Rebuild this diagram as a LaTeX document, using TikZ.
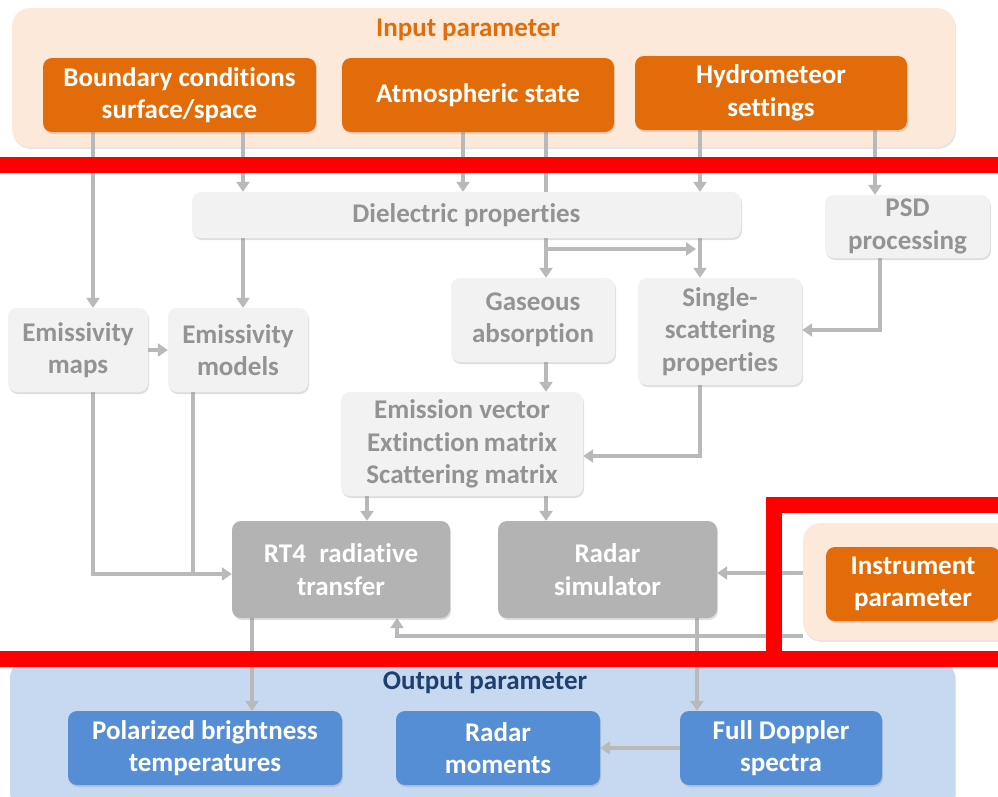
\documentclass[tikz,border=0pt]{standalone}
\usepackage{fontspec}
\setmainfont{Carlito}[Ligatures=NoCommon]
\usetikzlibrary{arrows.meta,shadows,calc}
\definecolor{orng}{HTML}{E36C0A}
\definecolor{peach}{HTML}{FDE9D9}
\definecolor{lgray}{HTML}{F2F2F2}
\definecolor{tgray}{HTML}{939393}
\definecolor{dgray}{HTML}{B3B3B3}
\definecolor{lnc}{HTML}{B9B9B9}
\definecolor{bpanel}{HTML}{C6D9F1}
\definecolor{bbox}{HTML}{558ED5}
\definecolor{btitle}{HTML}{1F3F6E}
\definecolor{redc}{HTML}{FF0000}
\pgfdeclarelayer{bg}
\pgfdeclarelayer{panel}
\pgfdeclarelayer{lines}
\pgfdeclarelayer{top}
\pgfsetlayers{bg,panel,lines,main,top}
\tikzset{
  txt/.style={font=\bfseries\fontsize{27}{32.5}\selectfont, align=center, inner sep=0pt},
  box/.style={txt, rounded corners=9pt, drop shadow={shadow xshift=1pt, shadow yshift=-2pt, opacity=0.25}},
  obox/.style={box, fill=orng, text=white},
  lbox/.style={box, fill=lgray, text=tgray},
  gbox/.style={box, fill=dgray, text=white},
  bluebox/.style={box, fill=bbox, text=white},
  panelbox/.style={rounded corners=18pt, inner sep=0pt, drop shadow={shadow xshift=1pt, shadow yshift=-2pt, opacity=0.2}},
  conn/.style={draw=lnc, line width=3.4pt, -{Triangle[width=13pt,length=10pt]}},
  plain/.style={draw=lnc, line width=3.4pt},
  sz/.style 2 args={minimum width=#1pt, minimum height=#2pt},
}
\begin{document}
\begin{tikzpicture}[x=1pt,y=-1pt]
\clip (0,0) rectangle (998,796);
\begin{pgfonlayer}{bg}
\fill[white] (0,0) rectangle (998,796);
\end{pgfonlayer}

% panels
\begin{pgfonlayer}{panel}
\node[panelbox, fill=peach, sz={943}{139}] (inpanel) at (483.5,77.5) {};
\node[panelbox, fill=peach, sz={220}{117}] (instpanel) at (913,581.5) {};
\node[panelbox, fill=bpanel, sz={945}{150}] (outpanel) at (482.5,735) {};
\end{pgfonlayer}

\node[txt, text=orng] (intitle) at (468,30) {Input parameter};
\node[txt, text=btitle] (outtitle) at (485,683) {Output parameter};

% input boxes
\node[obox, sz={273}{74}] (bnd) at (179.5,95) {Boundary conditions\\surface/space};
\node[obox, sz={272}{74}] (atm) at (478,95) {Atmospheric state};
\node[obox, sz={272}{74}] (hyd) at (771,93) {Hydrometeor\\settings};

% processing boxes
\node[lbox, sz={549}{46}] (diel) at (466.5,215) {Dielectric properties};
\node[lbox, sz={165}{63}] (psd) at (907.5,226.5) {PSD\\processing};
\node[lbox, sz={140}{84}] (emap) at (78,350) {Emissivity\\maps};
\node[lbox, sz={140}{84}] (emod) at (238,350) {Emissivity\\models};
\node[lbox, sz={164}{84}] (gas) at (533,320) {Gaseous\\absorption};
\node[lbox, sz={164}{107}] (ssp) at (720,331.5) {Single-\\scattering\\properties};
\node[lbox, sz={242}{104}] (emv) at (462,444) {Emission vector\\Extinction\,matrix\\Scattering matrix};
\node[gbox, sz={218}{97}] (rt4) at (341,569.5) {RT4\enspace radiative\\transfer};
\node[gbox, sz={219}{97}] (rad) at (607.5,569.5) {Radar\\simulator};
\node[obox, sz={174}{74}] (inst) at (913,584) {Instrument\\parameter};

% output boxes
\node[bluebox, sz={274}{74}] (pbt) at (205,748) {Polarized brightness\\temperatures};
\node[bluebox, sz={204}{74}] (rmom) at (498,748) {Radar\\moments};
\node[bluebox, sz={202}{74}] (fds) at (781,748) {Full Doppler\\spectra};

\coordinate (br1) at (546,249);
\coordinate (br2) at (700,249);

% connectors
\begin{pgfonlayer}{lines}
\draw[conn] (93,0 |- bnd.south) -- (93,0 |- emap.north);
\draw[conn] (243,0 |- bnd.south) -- (243,0 |- diel.north);
\draw[conn] (463,0 |- atm.south) -- (463,0 |- diel.north);
\draw[plain] (546,0 |- atm.south) -- (546,0 |- diel.north);
\draw[conn] (700,0 |- hyd.south) -- (700,0 |- diel.north);
\draw[conn] (875,0 |- hyd.south) -- (875,0 |- psd.north);
\draw[conn] (243,0 |- diel.south) -- (243,0 |- emod.north);
\draw[conn] (546,0 |- diel.south) -- (546,0 |- gas.north);
\draw[conn] (700,0 |- diel.south) -- (700,0 |- ssp.north);
\draw[conn] (br1) -- ([xshift=-4pt]br2);
\draw[conn] (emap.east) -- (emod.west);
\draw[conn] (880,0 |- psd.south) |- (ssp.east |- 0,330);
\draw[conn] (546,0 |- gas.south) -- (546,0 |- emv.north);
\draw[conn] (700,0 |- ssp.south) |- (emv.east |- 0,456);
\draw[conn] (367,0 |- emv.south) -- (367,0 |- rt4.north);
\draw[conn] (546,0 |- emv.south) -- (546,0 |- rad.north);
\draw[conn] (93,0 |- emap.south) |- (rt4.west |- 0,574);
\draw[plain] (193,0 |- emod.south) -- (193,574);
\draw[conn] (instpanel.west |- 0,573) -- (rad.east |- 0,573);
\draw[conn] (instpanel.west |- 0,636) -| (397,0 |- rt4.south);
\draw[conn] (252,0 |- rt4.south) -- (252,0 |- pbt.north);
\draw[conn] (697,0 |- rad.south) -- (697,0 |- fds.north);
\draw[conn] (fds.west) -- (rmom.east);
\end{pgfonlayer}

% red highlight bars
\begin{pgfonlayer}{top}
\fill[redc] (0,157) rectangle (998,173);
\fill[redc] (0,651) rectangle (998,667);
\fill[redc] (766,497) rectangle (782,667);
\fill[redc] (766,497) rectangle (998,513);
\end{pgfonlayer}
\end{tikzpicture}
\end{document}
